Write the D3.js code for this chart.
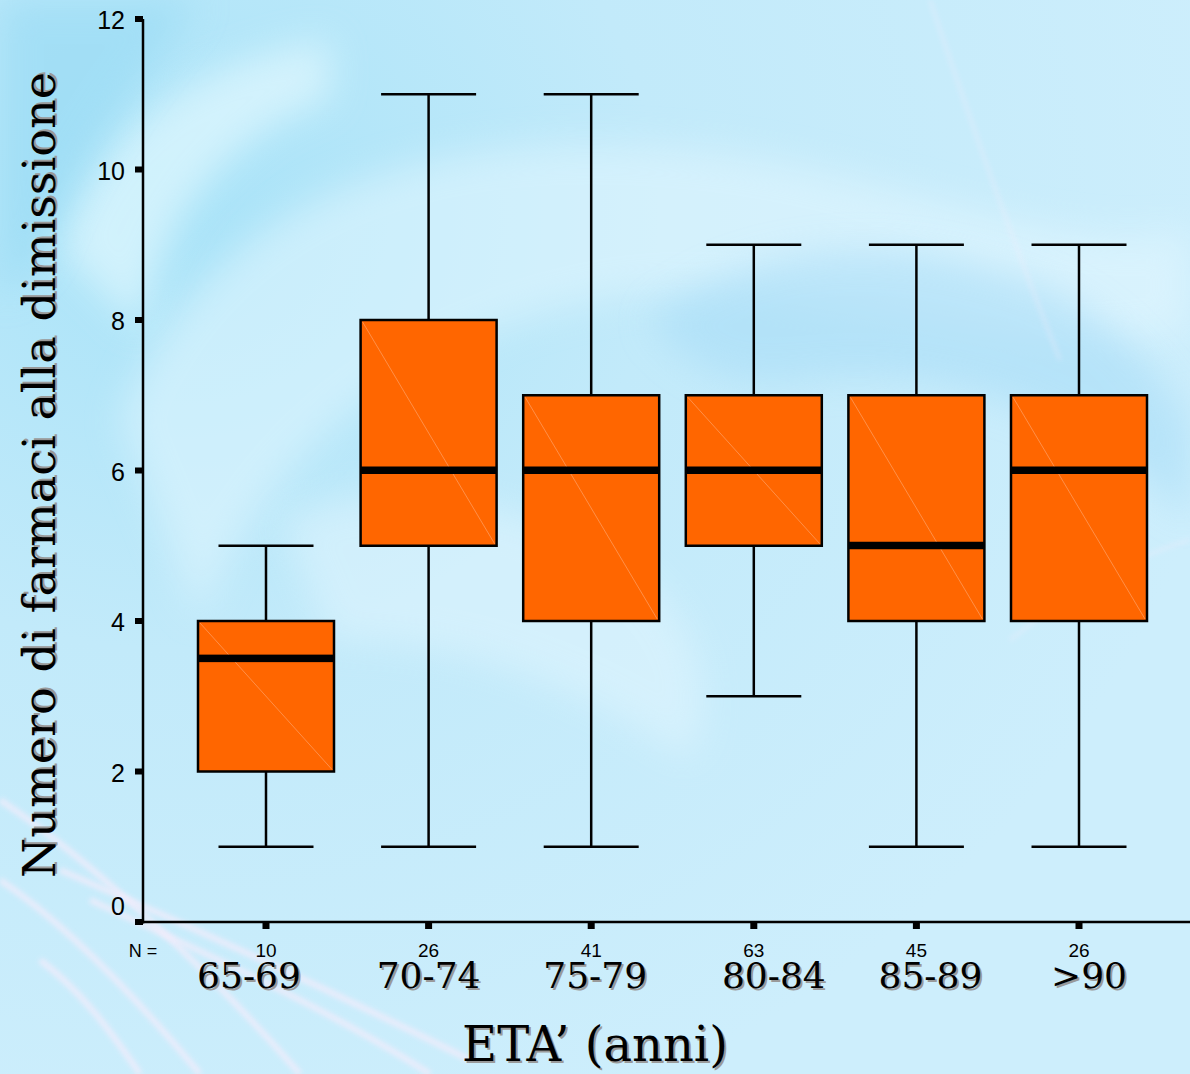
<!DOCTYPE html>
<html><head><meta charset="utf-8">
<script src="https://cdn.jsdelivr.net/npm/d3@7/dist/d3.min.js"></script>
<style>html,body{margin:0;padding:0;overflow:hidden;background:#c8ecfb}</style>
</head><body><svg id="chart" width="1190" height="1074"></svg>
<script>
// ---- data ----
const categories = ["65-69", "70-74", "75-79", "80-84", "85-89", ">90"];
const counts = [10, 26, 41, 63, 45, 26];
const whiskerLow = [1, 1, 1, 3, 1, 1];
const q1 = [2, 5, 4, 5, 4, 4];
const medians = [3.5, 6, 6, 6, 5, 6];
const q3 = [4, 8, 7, 7, 7, 7];
const whiskerHigh = [5, 11, 11, 9, 9, 9];
const yTicks = [0, 2, 4, 6, 8, 10, 12];

// ---- layout ----
const W = 1190, H = 1074;
const axisX = 143, axisY = 922, topY = 19;
const labelShift = [-17, 0, 4, 20, 14, 10];

const svg = d3.select("#chart");
const defs = svg.append("defs");

// background
const rg = defs.append("radialGradient").attr("id", "bg1").attr("cx", "0.15").attr("cy", "0.2").attr("r", "0.9");
rg.append("stop").attr("offset", "0").attr("stop-color", "#a9e3f8");
rg.append("stop").attr("offset", "0.45").attr("stop-color", "#c2eafa");
rg.append("stop").attr("offset", "1").attr("stop-color", "#cdeefc");
svg.append("rect").attr("width", W).attr("height", H).attr("fill", "url(#bg1)");
const blur = defs.append("filter").attr("id", "blur").attr("x", "-50%").attr("y", "-50%").attr("width", "200%").attr("height", "200%");
blur.append("feGaussianBlur").attr("stdDeviation", 18);
const blur2 = defs.append("filter").attr("id", "blur2").attr("x", "-20%").attr("y", "-20%").attr("width", "140%").attr("height", "140%");
blur2.append("feGaussianBlur").attr("stdDeviation", 2.5);

const bg = svg.append("g");
bg.append("path").attr("d", "M120,420 C200,200 420,120 700,150 C900,170 1050,260 1190,230 L1190,330 C1000,380 800,260 600,300 C400,340 260,460 200,620 Z")
  .attr("fill", "#e6f8ff").attr("opacity", 0.5).attr("filter", "url(#blur)");
bg.append("path").attr("d", "M650,320 C750,240 900,230 1050,290 C1120,320 1160,380 1190,420 L1190,520 C1100,420 950,360 800,380 C720,390 680,360 650,320 Z")
  .attr("fill", "#a6dcf7").attr("opacity", 0.55).attr("filter", "url(#blur)");
bg.append("path").attr("d", "M60,250 C100,120 200,60 330,40 L330,100 C230,130 160,220 140,330 Z")
  .attr("fill", "#e9fbff").attr("opacity", 0.6).attr("filter", "url(#blur)");
bg.append("path").attr("d", "M0,0 L200,0 C140,80 80,150 40,260 L0,300 Z")
  .attr("fill", "#92d8f3").attr("opacity", 0.5).attr("filter", "url(#blur)");
bg.append("path").attr("d", "M280,520 C380,470 520,500 620,560 C700,610 720,700 690,760 C600,700 480,640 330,640 Z")
  .attr("fill", "#e8f8ff").attr("opacity", 0.45).attr("filter", "url(#blur)");
const streaks = [
  "M0,800 C90,860 200,960 300,1074",
  "M0,880 C60,920 130,990 200,1074",
  "M40,960 C80,990 110,1030 140,1074",
  "M60,870 C200,930 350,1000 470,1060",
  "M90,900 C220,960 330,1010 430,1074",
  "M930,0 C970,120 1020,260 1060,360",
  "M1190,540 C1120,560 1060,600 1010,640"
];
bg.selectAll("path.streak").data(streaks).join("path").attr("class", "streak")
  .attr("d", d => d).attr("fill", "none").attr("stroke", "#f4ecfb")
  .attr("stroke-width", (d, i) => i < 5 ? 6 : 3).attr("opacity", (d, i) => i < 5 ? 0.75 : 0.4)
  .attr("filter", "url(#blur2)");

// scales
const y = d3.scaleLinear().domain([0, 12]).range([axisY, topY]);
const x = d3.scaleBand().domain(categories).range([184.7, 1160.3]).padding(0);
const boxW = 136, capW = 95;
const cx = c => x(c) + x.bandwidth() / 2;

// axes
const yAxis = d3.axisLeft(y).tickValues(yTicks).tickSize(0).tickFormat(d3.format("d"));
const gy = svg.append("g").attr("transform", `translate(${axisX},0)`).call(yAxis);
gy.select(".domain").remove();
gy.selectAll("text").attr("font-family", "Liberation Sans, Arial, sans-serif").attr("font-size", 25)
  .attr("fill", "#000").attr("x", -18).attr("dy", d => d === 0 ? "-0.3em" : "0.38em");
svg.append("g").selectAll("rect.yt").data(yTicks).join("rect").attr("class", "yt")
  .attr("x", axisX - 8).attr("y", d => y(d) - 3).attr("width", 8).attr("height", 6).attr("fill", "#000");

svg.append("line").attr("x1", axisX).attr("x2", axisX).attr("y1", topY).attr("y2", axisY + 1.5)
  .attr("stroke", "#000").attr("stroke-width", 2.5);
svg.append("line").attr("x1", axisX - 1.2).attr("x2", W).attr("y1", axisY).attr("y2", axisY)
  .attr("stroke", "#000").attr("stroke-width", 2.5);

const xAxis = d3.axisBottom(x).tickSize(0).tickFormat("");
const gx = svg.append("g").attr("transform", `translate(0,${axisY})`).call(xAxis);
gx.select(".domain").remove();
svg.append("g").selectAll("rect.xt").data(categories).join("rect").attr("class", "xt")
  .attr("x", d => cx(d) - 3.5).attr("y", axisY).attr("width", 7).attr("height", 7).attr("fill", "#000");

// boxes
const data = categories.map((c, i) => ({c, lo: whiskerLow[i], q1: q1[i], med: medians[i], q3: q3[i], hi: whiskerHigh[i]}));
const g = svg.append("g");
const bx = g.selectAll("g.box").data(data).join("g").attr("class", "box");
bx.append("line").attr("x1", d => cx(d.c)).attr("x2", d => cx(d.c)).attr("y1", d => y(d.hi)).attr("y2", d => y(d.q3))
  .attr("stroke", "#000").attr("stroke-width", 2.5);
bx.append("line").attr("x1", d => cx(d.c)).attr("x2", d => cx(d.c)).attr("y1", d => y(d.q1)).attr("y2", d => y(d.lo))
  .attr("stroke", "#000").attr("stroke-width", 2.5);
["hi", "lo"].forEach(k => {
  bx.append("line").attr("x1", d => cx(d.c) - capW / 2).attr("x2", d => cx(d.c) + capW / 2)
    .attr("y1", d => y(d[k])).attr("y2", d => y(d[k])).attr("stroke", "#000").attr("stroke-width", 2.5);
});
bx.append("rect").attr("x", d => cx(d.c) - boxW / 2).attr("y", d => y(d.q3)).attr("width", boxW)
  .attr("height", d => y(d.q1) - y(d.q3)).attr("fill", "#ff6600").attr("stroke", "#000").attr("stroke-width", 2.5);
bx.append("line").attr("x1", d => cx(d.c) - boxW / 2 + 2).attr("y1", d => y(d.q3) + 2)
  .attr("x2", d => cx(d.c) + boxW / 2 - 2).attr("y2", d => y(d.q1) - 2)
  .attr("stroke", "#ff9a5a").attr("stroke-width", 0.8);
bx.append("rect").attr("x", d => cx(d.c) - boxW / 2).attr("y", d => y(d.med) - 4).attr("width", boxW)
  .attr("height", 7.5).attr("fill", "#000");

// N labels
svg.append("text").attr("x", 143).attr("y", 957).attr("text-anchor", "middle")
  .attr("font-family", "Liberation Sans, Arial, sans-serif").attr("font-size", 18).text("N =");
svg.append("g").selectAll("text").data(categories).join("text")
  .attr("x", d => cx(d)).attr("y", 957).attr("text-anchor", "middle")
  .attr("font-family", "Liberation Sans, Arial, sans-serif").attr("font-size", 19)
  .text((d, i) => counts[i]);

// labels with shadow
function shadowText(sel, fn) {
  sel.append("text").call(fn).attr("fill", "#9a9a9a").attr("dx", 2).attr("dy", 2);
  sel.append("text").call(fn).attr("fill", "#000");
}
const cl = svg.append("g");
categories.forEach((c, i) => {
  shadowText(cl, t => t.attr("x", cx(c) + labelShift[i]).attr("y", 988).attr("text-anchor", "middle")
    .attr("font-family", "DejaVu Serif, serif").attr("font-size", 36).text(c));
});
shadowText(svg.append("g"), t => t.attr("x", 595).attr("y", 1061).attr("text-anchor", "middle")
  .attr("font-family", "DejaVu Serif, serif").attr("font-size", 48).text("ETA\u2019 (anni)"));
const yt = svg.append("g").attr("transform", "translate(55,475) rotate(-90)");
shadowText(yt, t => t.attr("x", 0).attr("y", 0).attr("text-anchor", "middle")
  .attr("font-family", "DejaVu Serif, serif").attr("font-size", 44)
  .attr("textLength", 806).attr("lengthAdjust", "spacingAndGlyphs").text("Numero di farmaci alla dimissione"));
</script></body></html>
